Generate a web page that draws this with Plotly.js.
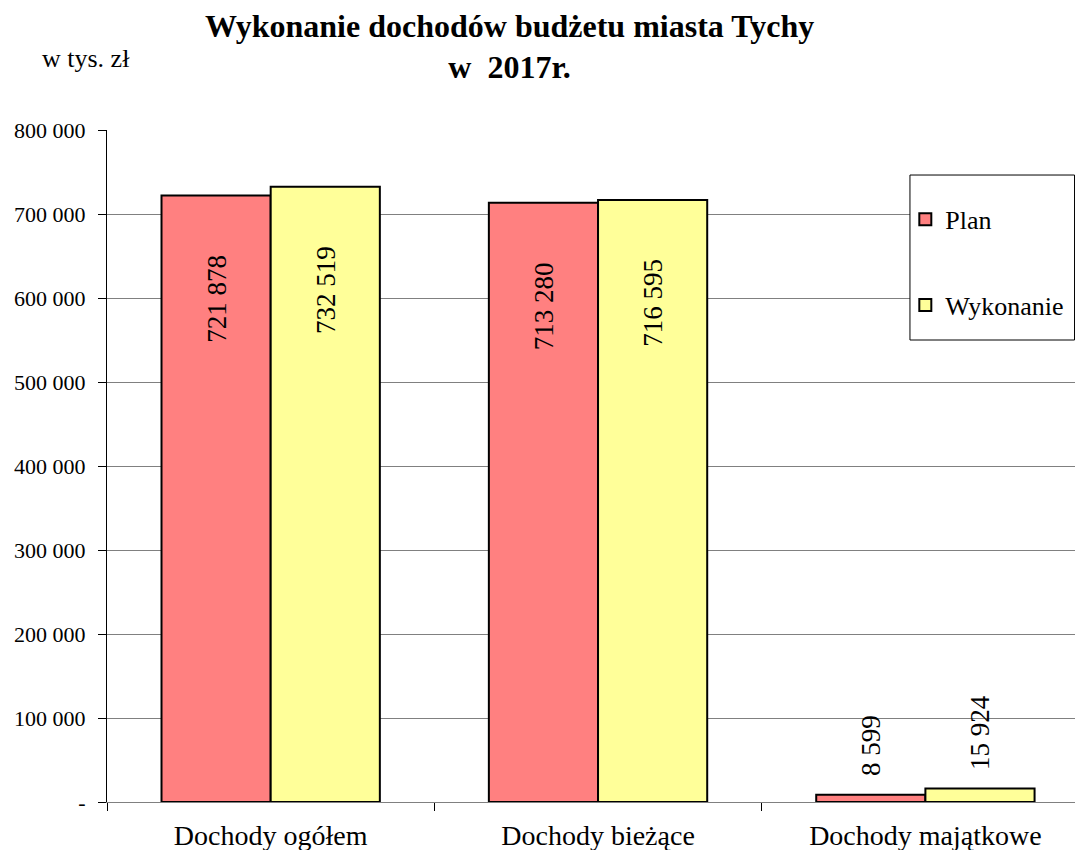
<!DOCTYPE html>
<html>
<head>
<meta charset="utf-8">
<script src="https://cdn.plot.ly/plotly-3.0.1.min.js"></script>
<style>html,body{margin:0;padding:0;background:#fff;}#chart{width:1075px;height:850px;}</style>
</head>
<body>
<div id="chart"></div>
<script>
const categories = ["Dochody ogółem", "Dochody bieżące", "Dochody majątkowe"];
const planValues = [721878, 713280, 8599];
const wykonanieValues = [732519, 716595, 15924];
const seriesNames = ["Plan", "Wykonanie"];
const yTickValues = [0, 100000, 200000, 300000, 400000, 500000, 600000, 700000, 800000];
const yTickLabels = ["-", "100 000", "200 000", "300 000", "400 000", "500 000", "600 000", "700 000", "800 000"];

function fmt(v) {
  return String(v).replace(/\B(?=(\d{3})+(?!\d))/g, " ");
}

const FONT = "Liberation Serif";

const traces = [
  {
    type: "bar", name: seriesNames[0], x: categories, y: planValues,
    marker: {color: "#FF8080", line: {color: "#000", width: 2}},
    legendgroup: "a", hoverinfo: "none"
  },
  {
    type: "bar", name: seriesNames[1], x: categories, y: wykonanieValues,
    marker: {color: "#FFFF99", line: {color: "#000", width: 2}},
    legendgroup: "b", hoverinfo: "none"
  }
];

const annotations = [];
const all = [planValues, wykonanieValues];
all.forEach(function(vals, s) {
  vals.forEach(function(v, i) {
    const big = v > 100000;
    annotations.push({
      xref: "x", yref: "y",
      x: i + (s === 0 ? -1/6 : 1/6), y: v,
      text: fmt(v), textangle: -90, showarrow: false,
      yanchor: big ? "top" : "bottom",
      yshift: big ? -57 : 17,
      font: {family: FONT, size: 27, color: "#000"}
    });
  });
});
annotations.push({
  xref: "paper", yref: "paper", x: -0.069, y: 1.107, xanchor: "left", yanchor: "middle",
  text: "w tys. zł", showarrow: false, font: {family: FONT, size: 26, color: "#000"}
});

const layout = {
  width: 1075, height: 850,
  margin: {l: 107, r: 0, t: 130, b: 48},
  paper_bgcolor: "#fff", plot_bgcolor: "#fff",
  font: {family: FONT, color: "#000"},
  title: {
    text: "<b>Wykonanie dochodów budżetu miasta Tychy<br>w  2017r.</b>",
    x: 0.474, xanchor: "center", y: 0.957, yanchor: "top",
    font: {family: FONT, size: 32, color: "#000"}
  },
  barmode: "group", bargap: 0.333, bargroupgap: 0,
  showlegend: true,
  legend: {
    x: 0.8247, y: 0.902, xanchor: "left", yanchor: "top",
    bgcolor: "rgba(0,0,0,0)", borderwidth: 0,
    font: {family: FONT, size: 26, color: "#000"},
    traceorder: "grouped", tracegroupgap: 49,
    itemwidth: 30
  },
  shapes: [{
    type: "rect", xref: "paper", yref: "paper",
    x0: 0.8295, x1: 0.9995, y0: 0.6875, y1: 0.933,
    fillcolor: "#fff", line: {color: "#000", width: 1}, layer: "above"
  }],
  xaxis: {
    type: "category", range: [-0.5, 2.457],
    tickson: "boundaries", ticks: "outside", ticklen: 8, tickcolor: "#000",
    showline: true, linecolor: "#808080", linewidth: 1,
    showgrid: false, zeroline: false,
    tickfont: {family: FONT, size: 28, color: "#000"},
    ticklabelstandoff: 8
  },
  yaxis: {
    range: [0, 800000], tickvals: yTickValues, ticktext: yTickLabels,
    ticks: "outside", ticklen: 8, tickcolor: "#000",
    showline: true, linecolor: "#000", linewidth: 1,
    showgrid: true, gridcolor: "#808080", gridwidth: 1,
    zeroline: false,
    tickfont: {family: FONT, size: 22, color: "#000"},
    ticklabelstandoff: 8
  },
  annotations: annotations
};

Plotly.newPlot("chart", traces, layout, {displayModeBar: false, staticPlot: true});
</script>
</body>
</html>
